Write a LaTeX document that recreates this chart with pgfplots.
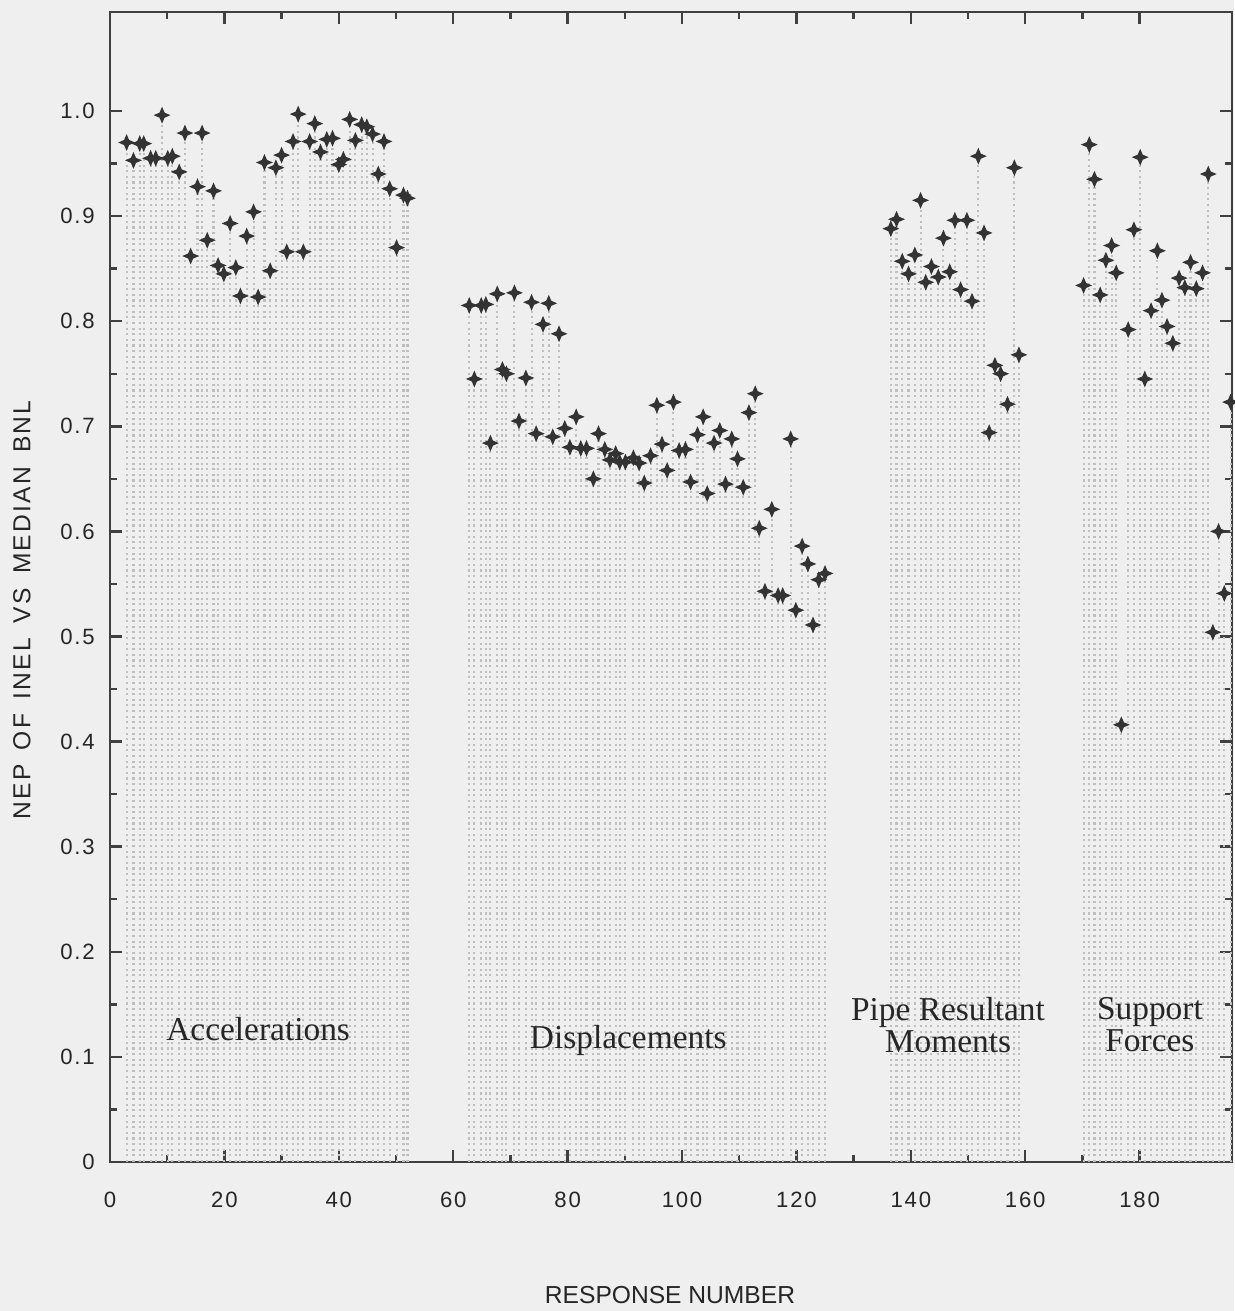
\documentclass[border=0pt]{standalone}
\usepackage{fontspec}
\setmainfont{Liberation Serif}
\setsansfont{Liberation Sans}
\newfontfamily\ticksfont{Liberation Sans}[LetterSpace=8]
\newfontfamily\ylabfont{Liberation Sans}[LetterSpace=9,WordSpace=1.6]
\usepackage{pgfplots}
\pgfplotsset{compat=1.18}
\usepackage{pgfplotstable}

\pgfdeclareplotmark{sparkle}{%
  \pgfpathmoveto{\pgfqpoint{0pt}{\pgfplotmarksize}}%
  \pgfpathlineto{\pgfqpoint{0.3\pgfplotmarksize}{0.3\pgfplotmarksize}}%
  \pgfpathlineto{\pgfqpoint{\pgfplotmarksize}{0pt}}%
  \pgfpathlineto{\pgfqpoint{0.3\pgfplotmarksize}{-0.3\pgfplotmarksize}}%
  \pgfpathlineto{\pgfqpoint{0pt}{-\pgfplotmarksize}}%
  \pgfpathlineto{\pgfqpoint{-0.3\pgfplotmarksize}{-0.3\pgfplotmarksize}}%
  \pgfpathlineto{\pgfqpoint{-\pgfplotmarksize}{0pt}}%
  \pgfpathlineto{\pgfqpoint{-0.3\pgfplotmarksize}{0.3\pgfplotmarksize}}%
  \pgfpathclose
  \pgfusepathqfill}

\pgfplotstableread{
x y
2.9 0.970
4.1 0.953
5.2 0.969
5.9 0.969
7.1 0.955
8.0 0.955
9.1 0.996
10.1 0.955
10.9 0.957
12.1 0.942
13.1 0.979
14.1 0.862
15.3 0.928
16.1 0.979
17.0 0.877
18.1 0.924
18.9 0.853
19.9 0.845
21.0 0.893
22.0 0.851
22.8 0.824
23.9 0.881
25.1 0.904
25.9 0.823
27.0 0.951
28.0 0.848
29.0 0.946
30.0 0.958
30.9 0.866
32.0 0.971
32.9 0.997
33.8 0.866
34.9 0.971
35.8 0.988
36.8 0.961
37.9 0.973
38.9 0.974
40.0 0.949
40.8 0.954
41.9 0.992
42.9 0.972
44.0 0.987
44.9 0.985
45.9 0.978
46.9 0.940
47.9 0.971
48.9 0.926
50.1 0.870
51.3 0.920
52.0 0.917
}\accel

\pgfplotstableread{
x y
62.8 0.815
63.7 0.745
64.9 0.815
65.7 0.816
66.5 0.684
67.7 0.826
68.6 0.754
69.3 0.750
70.7 0.827
71.5 0.705
72.7 0.746
73.7 0.818
74.5 0.693
75.7 0.797
76.7 0.817
77.4 0.690
78.5 0.788
79.5 0.698
80.4 0.680
81.5 0.709
82.3 0.679
83.3 0.679
84.5 0.650
85.4 0.693
86.5 0.678
87.4 0.668
88.4 0.674
89.1 0.666
90.1 0.666
91.5 0.670
92.5 0.665
93.4 0.646
94.5 0.672
95.6 0.720
96.5 0.683
97.4 0.658
98.5 0.723
99.5 0.677
100.6 0.678
101.5 0.647
102.7 0.692
103.7 0.709
104.4 0.636
105.6 0.684
106.6 0.696
107.6 0.645
108.7 0.688
109.7 0.669
110.7 0.642
111.7 0.713
112.8 0.731
113.5 0.603
114.5 0.543
115.7 0.621
116.8 0.539
117.6 0.539
119.0 0.688
119.9 0.525
121.0 0.586
122.0 0.569
122.9 0.511
123.9 0.554
125.0 0.560
}\displ

\pgfplotstableread{
x y
136.5 0.888
137.5 0.897
138.5 0.857
139.6 0.845
140.7 0.863
141.7 0.915
142.6 0.837
143.6 0.852
144.8 0.842
145.7 0.879
146.8 0.847
147.7 0.896
148.7 0.830
149.8 0.896
150.7 0.819
151.8 0.957
152.8 0.884
153.7 0.694
154.7 0.758
155.7 0.750
156.9 0.721
158.1 0.946
158.9 0.768
}\pipe

\pgfplotstableread{
x y
170.2 0.834
171.2 0.968
172.1 0.935
173.1 0.825
174.1 0.858
175.1 0.872
175.9 0.846
176.8 0.416
178.0 0.792
179.0 0.887
180.1 0.956
180.9 0.745
182.0 0.810
183.1 0.867
183.9 0.820
184.8 0.795
185.8 0.779
186.9 0.841
187.9 0.832
188.9 0.856
189.9 0.831
191.0 0.846
192.0 0.940
192.8 0.504
193.8 0.600
194.8 0.541
195.9 0.723
196.5 0.823
}\support

\begin{document}
\begin{tikzpicture}
\path[use as bounding box, fill={rgb,255:red,239;green,239;blue,239}] (-1.10,-1.49) rectangle (11.24,11.62);
\begin{axis}[
  at={(0,0)}, anchor=south west,
  scale only axis, width=11.22cm, height=11.5cm,
  xmin=0, xmax=196.15, ymin=0, ymax=1.0942,
  axis line style={draw=black!75, line width=0.8pt},
  tick align=inside,
  tick style={draw=black!75, line width=0.7pt},
  major tick length=0.12cm, minor tick length=0.07cm,
  xtick={0,20,40,60,80,100,120,140,160,180},
  xticklabels={0,20,40,60,80,100,120,140,160,180},
  minor x tick num=1,
  ytick={0,0.1,0.2,0.3,0.4,0.5,0.6,0.7,0.8,0.9,1.0},
  yticklabels={0,0.1,0.2,0.3,0.4,0.5,0.6,0.7,0.8,0.9,1.0},
  minor y tick num=1,
  ticklabel style={font=\fontsize{6.3}{7}\selectfont\ticksfont, text=black!85},
  xticklabel style={yshift=-0.18cm},
  yticklabel style={xshift=-0.03cm},
  clip mode=individual,
]
\addplot[ycomb, draw=black!25, densely dotted, line width=0.6pt] table {\accel};
\addplot[ycomb, draw=black!25, densely dotted, line width=0.6pt] table {\displ};
\addplot[ycomb, draw=black!25, densely dotted, line width=0.6pt] table {\pipe};
\addplot[ycomb, draw=black!25, densely dotted, line width=0.6pt] table {\support};
\addplot[only marks, mark=sparkle, mark size=2.4pt, color=black!80] table {\accel};
\addplot[only marks, mark=sparkle, mark size=2.4pt, color=black!80] table {\displ};
\addplot[only marks, mark=sparkle, mark size=2.4pt, color=black!80] table {\pipe};
\addplot[only marks, mark=sparkle, mark size=2.4pt, color=black!80] table {\support};
\node[font=\fontsize{9.5}{9.2}\selectfont, text=black!85] at (axis cs:25.9,0.126) {Accelerations};
\node[font=\fontsize{9.5}{9.2}\selectfont, text=black!85] at (axis cs:90.6,0.116) {Displacements};
\node[font=\fontsize{9.5}{9.2}\selectfont, text=black!85, align=center] at (axis cs:146.5,0.130) {Pipe Resultant\\Moments};
\node[font=\fontsize{9.5}{9.2}\selectfont, text=black!85, align=center] at (axis cs:181.8,0.131) {Support\\Forces};
\end{axis}
\node[font=\fontsize{7}{8}\selectfont\sffamily, text=black!85] at (5.60,-1.33) {RESPONSE NUMBER};
\node[font=\fontsize{7}{8}\selectfont\ylabfont, text=black!85, rotate=90] at (-0.88,5.52) {NEP OF INEL VS MEDIAN BNL};
\end{tikzpicture}
\end{document}
